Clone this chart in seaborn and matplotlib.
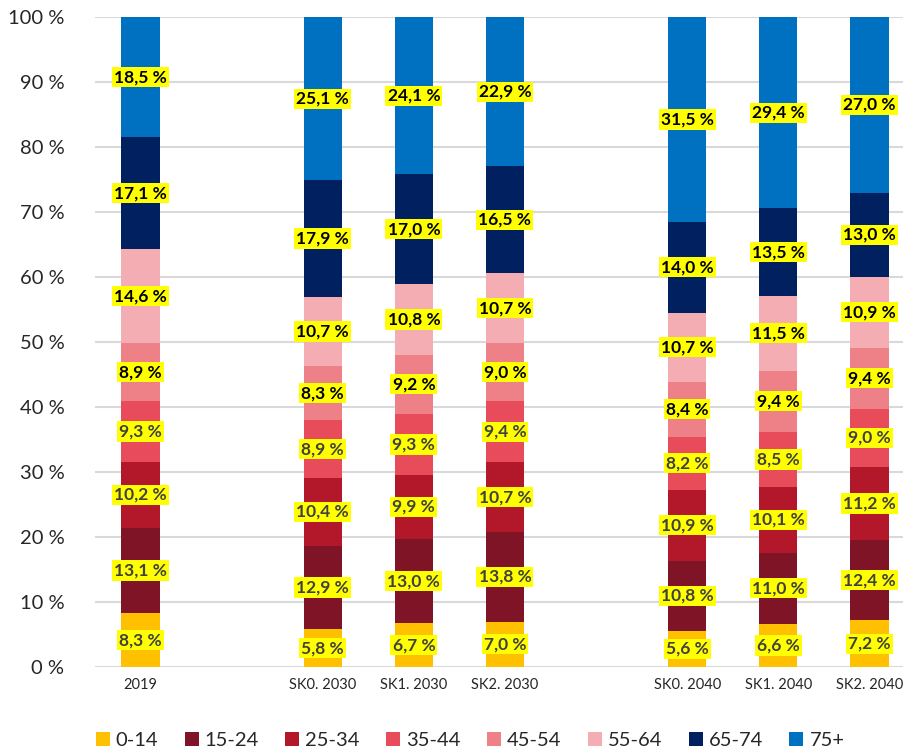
import seaborn as sns
import matplotlib.pyplot as plt
import pandas as pd
import numpy as np

groups = ["0-14", "15-24", "25-34", "35-44", "45-54", "55-64", "65-74", "75+"]
colors = ["#ffc000", "#7f1427", "#b3172a", "#e84c5b", "#ee8187", "#f4aeb3", "#002060", "#0070c0"]
scenarios = ["2019", "SK0. 2030", "SK1. 2030", "SK2. 2030", "SK0. 2040", "SK1. 2040", "SK2. 2040"]
order = ["2019", " ", "SK0. 2030", "SK1. 2030", "SK2. 2030", "  ", "SK0. 2040", "SK1. 2040", "SK2. 2040"]

v2019 = [8.3, 13.1, 10.2, 9.3, 8.9, 14.6, 17.1, 18.5]
sk0_2030 = [5.8, 12.9, 10.4, 8.9, 8.3, 10.7, 17.9, 25.1]
sk1_2030 = [6.7, 13.0, 9.9, 9.3, 9.2, 10.8, 17.0, 24.1]
sk2_2030 = [7.0, 13.8, 10.7, 9.4, 9.0, 10.7, 16.5, 22.9]
sk0_2040 = [5.6, 10.8, 10.9, 8.2, 8.4, 10.7, 14.0, 31.5]
sk1_2040 = [6.6, 11.0, 10.1, 8.5, 9.4, 11.5, 13.5, 29.4]
sk2_2040 = [7.2, 12.4, 11.2, 9.0, 9.4, 10.9, 13.0, 27.0]
values = [v2019, sk0_2030, sk1_2030, sk2_2030, sk0_2040, sk1_2040, sk2_2040]

sns.set_style("white")
plt.rcParams["font.family"] = ["Lato", "DejaVu Sans"]

fig = plt.figure(figsize=(9.04, 7.52), dpi=100)
ax = fig.add_axes([0.105, 0.113, 0.895, 0.864])

rows = []
for s, vals in zip(scenarios, values):
    tot = sum(vals)
    cum = np.cumsum(vals) / tot * 100
    for g, c in zip(groups, cum):
        rows.append({"scen": s, "group": g, "top": c})
df = pd.DataFrame(rows)

# draw cumulative tops, largest first so smaller ones sit on top
for g, col in reversed(list(zip(groups, colors))):
    sub = df[df.group == g]
    sns.barplot(data=sub, x="scen", y="top", order=order, color=col,
                width=0.42, ax=ax, saturation=1, label=g, zorder=2, linewidth=0)

text_cols = ["#404040"] * 4 + ["#000000"] * 4
for s, vals in zip(scenarios, values):
    xi = order.index(s)
    tot = sum(vals)
    bottom = 0
    for i, v in enumerate(vals):
        h = v / tot * 100
        ax.text(xi, bottom + h / 2, f"{v:.1f} %".replace(".", ","), ha="center", va="center",
                fontsize=12.5, fontweight="bold", color=text_cols[i], zorder=5,
                bbox=dict(boxstyle="square,pad=0.12", fc="#ffff00", ec="none"))
        bottom += h

ax.set_ylim(0, 100)
ax.set_xlim(-0.5, 8.38)
ax.set_yticks(range(0, 101, 10))
ax.set_yticklabels([f"{t} %" for t in range(0, 101, 10)], fontsize=14.5)
ax.tick_params(axis="x", labelsize=10.5, length=0, pad=8)
ax.tick_params(axis="y", length=0, pad=22)
ax.yaxis.grid(True, color="#d9d9d9", lw=1.5, zorder=0)
ax.set_axisbelow(True)
ax.set_xlabel("")
ax.set_ylabel("")
if ax.get_legend() is not None:
    ax.get_legend().remove()
for sp in ax.spines.values():
    sp.set_visible(False)

handles, labels = ax.get_legend_handles_labels()
hmap = dict(zip(labels, handles))
leg = fig.legend([hmap[g] for g in groups], groups, loc="lower center", ncol=8,
                 bbox_to_anchor=(0.52, -0.02), frameon=False, fontsize=14.5,
                 handlelength=0.7, handleheight=0.7, handletextpad=0.3, columnspacing=1.3)

fig.savefig("out.png", dpi=100)
